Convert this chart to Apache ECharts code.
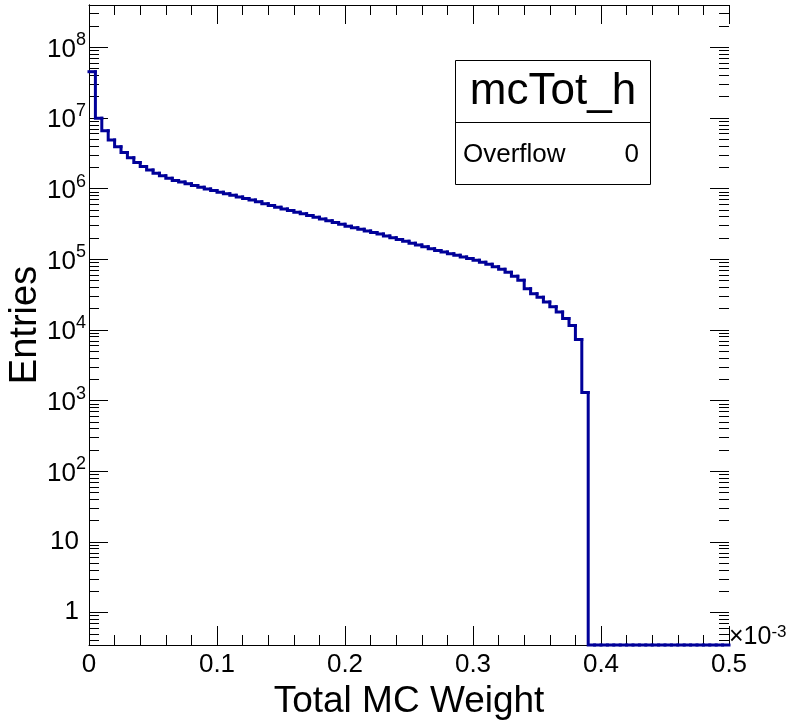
<!DOCTYPE html>
<html><head><meta charset="utf-8">
<script src="https://cdn.jsdelivr.net/npm/echarts@6/dist/echarts.min.js"></script>
<style>html,body{margin:0;padding:0;background:#fff}#c{width:790px;height:724px}</style>
</head><body><div id="c"></div>
<script>
// ---- data (x in units of 1e-3) ----
const binStart = 0;
const binWidth = 0.005;
const counts = [
  44700000, 9770000, 6520000, 4820000, 3870000, 3200000, 2700000, 2310000, 2030000, 1810000,
  1640000, 1500000, 1385000, 1294000, 1224000, 1158000, 1092000, 1033000, 977000, 928000,
  881000, 838000, 796000, 755000, 717000, 681000, 644000, 607000, 573000, 540000,
  511000, 485000, 460000, 435000, 412000, 390000, 367000, 348000, 328000, 309000,
  291000, 277000, 263000, 249000, 237000, 225000, 212000, 200000, 188000, 178000,
  167000, 158000, 149000, 140000, 132000, 125000, 118500, 112500, 106700, 101300,
  96200, 90100, 84400, 77800, 71700, 65000, 57100, 50100, 38000, 32300,
  28800, 24700, 21000, 17800, 14400, 11400, 7240, 1290, 0, 0,
  0, 0, 0, 0, 0, 0, 0, 0, 0, 0,
  0, 0, 0, 0, 0, 0, 0, 0, 0, 0
];
const xMin = 0, xMax = 0.5, xStep = 0.1;
const yMin = 0.344, yMax = 3.93e8;
const histName = 'mcTot_h';
const statLabel = 'Overflow';
const statValue = '0';
const xTitle = 'Total MC Weight';
const yTitle = 'Entries';
const xExponent = '-3';

const FONT = '"Liberation Sans", Arial, Helvetica, sans-serif';
const LINE_COLOR = '#000099';

// one item per bin: [low edge, value, high edge, previous bin value]
const binItems = [];
counts.forEach((c, k) => {
  const v = c > 0 ? c : yMin;
  const prev = k === 0 ? v : (counts[k - 1] > 0 ? counts[k - 1] : yMin);
  const lo = binStart + k * binWidth;
  const hi = binStart + (k + 1) * binWidth;
  binItems.push([lo, v, hi, prev]);
});

const yTicks = [];
for (let e = -1; e <= 8; e++) {
  for (let m = 1; m <= 9; m++) {
    const v = m * Math.pow(10, e);
    if (v > yMin && v < yMax) yTicks.push([xMin, v, m === 1 ? 1 : 0]);
  }
}

const chart = echarts.init(document.getElementById('c'));
const axisLineStyle = { show: true, lineStyle: { color: '#000', width: 1 } };

chart.setOption({
  animation: false,
  backgroundColor: '#fff',
  grid: { left: 89, top: 5, right: 61, bottom: 79, containLabel: false, outerBoundsMode: 'none' },
  xAxis: [
    {
      type: 'value', min: xMin, max: xMax, interval: xStep, position: 'bottom',
      axisLine: axisLineStyle,
      axisTick: { show: true, inside: true, length: 19, lineStyle: { color: '#000', width: 1 } },
      minorTick: { show: true, splitNumber: 5, length: 10, lineStyle: { color: '#000', width: 1 } },
      splitLine: { show: false }, minorSplitLine: { show: false },
      axisLabel: { fontSize: 26, fontFamily: FONT, color: '#000', margin: 7 },
      name: xTitle, nameLocation: 'middle', nameGap: 38,
      nameTextStyle: { fontSize: 37, fontFamily: FONT, color: '#000' }
    },
    {
      type: 'value', min: xMin, max: xMax, interval: xStep, position: 'top',
      axisLine: axisLineStyle,
      axisTick: { show: true, inside: true, length: 19, lineStyle: { color: '#000', width: 1 } },
      minorTick: { show: true, splitNumber: 5, length: 10, lineStyle: { color: '#000', width: 1 } },
      splitLine: { show: false }, axisLabel: { show: false }
    }
  ],
  yAxis: [
    {
      type: 'log', logBase: 10, min: yMin, max: yMax, splitNumber: 10, position: 'left',
      axisLine: axisLineStyle, axisTick: { show: false }, splitLine: { show: false },
      axisLabel: {
        margin: 3, color: '#000', fontFamily: FONT,
        formatter: function (v) {
          const l = Math.log10(v), e = Math.round(l);
          if (Math.abs(l - e) > 1e-6) return '';
          if (e === 0) return '{p|1}';
          if (e === 1) return '{p|10}';
          return '{b|10}{s|' + e + '}';
        },
        rich: {
          p: { fontSize: 26, fontFamily: FONT, color: '#000', padding: [0, 7, 0, 0] },
          b: { fontSize: 26, fontFamily: FONT, color: '#000', verticalAlign: 'bottom' },
          s: { fontSize: 18, fontFamily: FONT, color: '#000', verticalAlign: 'top', padding: [0, 0, 13, 0] }
        }
      },
      name: yTitle, nameLocation: 'middle', nameGap: 44, nameMoveOverlap: false,
      nameTextStyle: { fontSize: 38, fontFamily: FONT, color: '#000' }
    },
    {
      type: 'log', logBase: 10, min: yMin, max: yMax, splitNumber: 10, position: 'right',
      axisLine: axisLineStyle, axisTick: { show: false }, splitLine: { show: false },
      axisLabel: { show: false }
    }
  ],
  series: [
    {
      type: 'custom', xAxisIndex: 0, yAxisIndex: 0, data: binItems,
      encode: { x: [0, 2], y: [1, 3] }, clip: false, z: 5,
      renderItem: function (params, api) {
        const lo = api.value(0), v = api.value(1), hi = api.value(2), prev = api.value(3);
        const a = api.coord([lo, prev]);
        const b = api.coord([lo, v]);
        const c = api.coord([hi, v]);
        return {
          type: 'polyline',
          shape: { points: [a, b, c] },
          style: { stroke: LINE_COLOR, lineWidth: 3, fill: null, lineJoin: 'miter', lineCap: 'square' }
        };
      }
    },
    {
      type: 'custom', xAxisIndex: 0, yAxisIndex: 0, data: yTicks,
      encode: { x: 0, y: 1 }, clip: false, z: 3,
      renderItem: function (params, api) {
        const v = api.value(1), major = api.value(2);
        const pL = api.coord([xMin, v]);
        const pR = api.coord([xMax, v]);
        const len = major ? 19 : 10;
        const y = Math.round(pL[1]) + 0.5;
        return {
          type: 'group', children: [
            { type: 'line', shape: { x1: pL[0], y1: y, x2: pL[0] + len, y2: y }, style: { stroke: '#000', lineWidth: 1 } },
            { type: 'line', shape: { x1: pR[0] - len, y1: y, x2: pR[0], y2: y }, style: { stroke: '#000', lineWidth: 1 } }
          ]
        };
      }
    }
  ],
  graphic: [
    {
      type: 'text', left: 729, top: 624, z: 10,
      style: {
        text: '×10{s|' + xExponent + '}', fill: '#000', font: '25px ' + FONT,
        rich: {
          s: { fontSize: 17, fontFamily: FONT, fill: '#000', verticalAlign: 'top', padding: [0, 0, 10, 0] }
        }
      }
    },
    {
      type: 'group', z: 10, children: [
        { type: 'rect', shape: { x: 455.5, y: 60.5, width: 195, height: 124 }, style: { fill: '#fff', stroke: '#000', lineWidth: 1 } },
        { type: 'line', shape: { x1: 455.5, y1: 122.5, x2: 650.5, y2: 122.5 }, style: { stroke: '#000', lineWidth: 1 } },
        { type: 'text', x: 553, y: 92, style: { text: histName, font: '44px ' + FONT, fill: '#000', align: 'center', verticalAlign: 'middle' } },
        { type: 'text', x: 463, y: 155, style: { text: statLabel, font: '26px ' + FONT, fill: '#000', align: 'left', verticalAlign: 'middle' } },
        { type: 'text', x: 639, y: 155, style: { text: statValue, font: '26px ' + FONT, fill: '#000', align: 'right', verticalAlign: 'middle' } }
      ]
    }
  ]
});
</script>
</body></html>
